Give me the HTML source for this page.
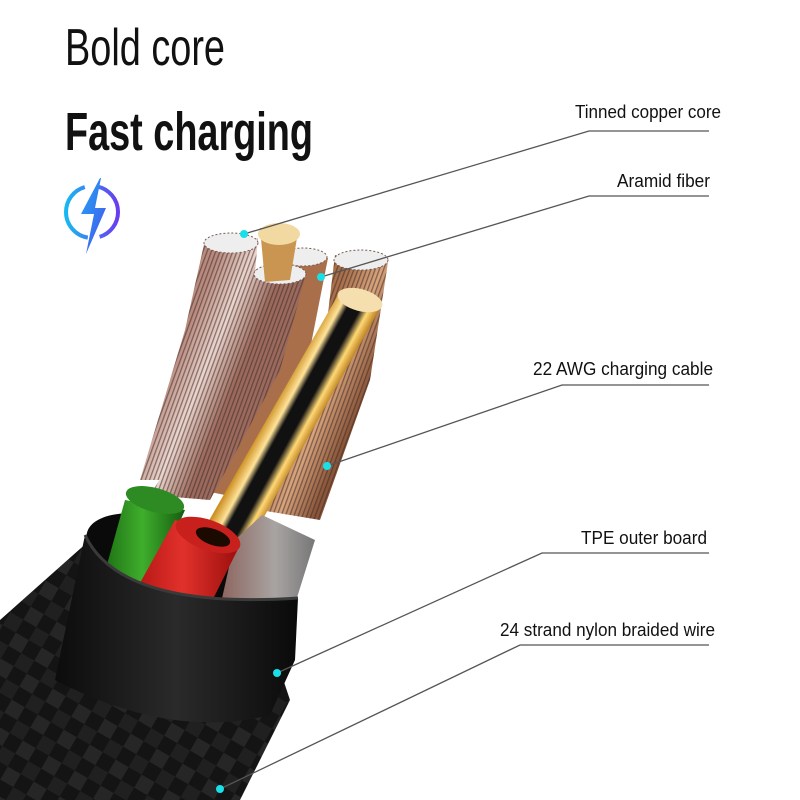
<!DOCTYPE html>
<html><head><meta charset="utf-8"><style>
html,body{margin:0;padding:0;background:#fff;}
svg{display:block}
</style></head><body>
<svg width="800" height="800" viewBox="0 0 800 800" xmlns="http://www.w3.org/2000/svg">
<defs>
<linearGradient id="cop" gradientUnits="userSpaceOnUse" x1="170" y1="370" x2="230" y2="395">
<stop offset="0" stop-color="#b98a7e"/><stop offset=".5" stop-color="#ecd6ce"/><stop offset="1" stop-color="#9c6a5c"/></linearGradient>
<linearGradient id="cop2" gradientUnits="userSpaceOnUse" x1="300" y1="380" x2="360" y2="405">
<stop offset="0" stop-color="#a86f4a"/><stop offset=".5" stop-color="#d9a57d"/><stop offset="1" stop-color="#8a5538"/></linearGradient>
<linearGradient id="gold" gradientUnits="userSpaceOnUse" x1="268" y1="413" x2="312" y2="437">
<stop offset="0" stop-color="#c98a1a"/><stop offset=".25" stop-color="#ffe39a"/><stop offset=".38" stop-color="#111"/><stop offset=".62" stop-color="#111"/><stop offset=".78" stop-color="#ffd874"/><stop offset="1" stop-color="#b07010"/></linearGradient>
<linearGradient id="grn" x1="0" y1="0" x2="1" y2="0"><stop offset="0" stop-color="#1a6a12"/><stop offset=".5" stop-color="#3fae2c"/><stop offset="1" stop-color="#155c10"/></linearGradient>
<linearGradient id="red" x1="0" y1="0" x2="1" y2="0"><stop offset="0" stop-color="#a8100e"/><stop offset=".5" stop-color="#e2312c"/><stop offset="1" stop-color="#9a0e0c"/></linearGradient>
<linearGradient id="gry" x1="0" y1="0" x2="1" y2="0"><stop offset="0" stop-color="#8a5e58"/><stop offset=".6" stop-color="#a8a4a2"/><stop offset="1" stop-color="#777"/></linearGradient>
<linearGradient id="blk" x1="0" y1="0" x2="1" y2="0"><stop offset="0" stop-color="#0c0c0c"/><stop offset=".5" stop-color="#2a2a2a"/><stop offset="1" stop-color="#0a0a0a"/></linearGradient>
<pattern id="braid" width="30" height="30" patternUnits="userSpaceOnUse" patternTransform="rotate(30)">
<rect width="30" height="30" fill="#141414"/><rect width="15" height="15" fill="#262626"/><rect x="15" y="15" width="15" height="15" fill="#202020"/></pattern>
<pattern id="str" width="4" height="10" patternUnits="userSpaceOnUse" patternTransform="rotate(20)">
<rect width="1.3" height="10" fill="#3a2a28" opacity=".55"/></pattern>
<linearGradient id="ring" x1="0" y1="0" x2="1" y2="0"><stop offset="0" stop-color="#18b8f0"/><stop offset="1" stop-color="#6a3cf0"/></linearGradient>
<linearGradient id="bolt" x1="0" y1="0" x2="1" y2="1"><stop offset="0" stop-color="#1fa8f0"/><stop offset="1" stop-color="#4a50f0"/></linearGradient>
</defs>

<text x="65" y="65" font-family="Liberation Sans, sans-serif" font-size="52" textLength="160" lengthAdjust="spacingAndGlyphs" fill="#111">Bold core</text>
<text x="65" y="150" font-family="Liberation Sans, sans-serif" font-weight="bold" font-size="54" textLength="248" lengthAdjust="spacingAndGlyphs" fill="#111">Fast charging</text>

<circle cx="92" cy="212" r="26" fill="none" stroke="url(#ring)" stroke-width="4" stroke-dasharray="70 12 70 12" stroke-dashoffset="-45"/>
<path d="M100 178 L81 214 L94 214 L86 254 L106 208 L95 208 L101 178 Z" fill="url(#bolt)"/>

<path d="M0 620 L90 540 L270 640 L290 700 L240 800 L0 800 Z" fill="url(#braid)"/>
<g>
<path d="M205 240 L258 238 L250 330 L200 480 L140 480 L185 330 Z" fill="url(#cop)"/>
<path d="M205 240 L258 238 L250 330 L200 480 L140 480 L185 330 Z" fill="url(#str)"/>
<path d="M335 255 L388 262 L370 380 L320 520 L260 510 L320 380 Z" fill="url(#cop2)"/>
<path d="M335 255 L388 262 L370 380 L320 520 L260 510 L320 380 Z" fill="url(#str)"/>
<path d="M280 255 L328 258 L300 400 L250 500 L200 490 L260 380 Z" fill="url(#cop2)"/>
<path d="M255 270 L305 278 L280 370 L210 500 L150 495 L235 360 Z" fill="url(#cop)"/>
<path d="M255 270 L305 278 L280 370 L210 500 L150 495 L235 360 Z" fill="url(#str)"/>
<ellipse cx="231" cy="243" rx="27" ry="10" fill="#eee" stroke="#7a5a55" stroke-dasharray="2 2"/>
<ellipse cx="361" cy="260" rx="27" ry="10" fill="#eee" stroke="#7a5a55" stroke-dasharray="2 2"/>
<ellipse cx="303" cy="257" rx="24" ry="9" fill="#eee" stroke="#7a5a55" stroke-dasharray="2 2"/>
<ellipse cx="280" cy="274" rx="26" ry="10" fill="#eee" stroke="#7a5a55" stroke-dasharray="2 2"/>
<path d="M260 228 L298 232 L290 280 L265 282 Z" fill="#c99550"/>
<ellipse cx="279" cy="234" rx="21" ry="11" fill="#f2d9a2"/>
<path d="M338 295 L382 305 L240 560 L195 545 Z" fill="url(#gold)"/>
<ellipse cx="360" cy="300" rx="23" ry="11" transform="rotate(15 360 300)" fill="#f5dfae"/>
</g>
<ellipse cx="190" cy="565" rx="108" ry="42" transform="rotate(18 190 565)" fill="#0a0a0a"/>
<path d="M125 500 L185 510 L150 590 L100 590 Z" fill="url(#grn)"/>
<ellipse cx="155" cy="500" rx="30" ry="12" transform="rotate(15 155 500)" fill="#2e8a22"/>
<path d="M262 515 L315 540 L290 620 L215 630 L235 540 Z" fill="url(#gry)"/>
<path d="M175 520 L240 545 L195 635 L125 610 Z" fill="url(#red)"/>
<ellipse cx="208" cy="535" rx="34" ry="15" transform="rotate(20 208 535)" fill="#c8201c"/>
<ellipse cx="213" cy="537" rx="18" ry="8" transform="rotate(20 213 537)" fill="#1a0a00"/>
<path d="M85 535 Q120 610 298 598 L295 660 L270 715 Q170 740 55 680 Z" fill="url(#blk)"/>
<path d="M85 535 Q120 610 298 598" stroke="#3a3a3a" stroke-width="3" fill="none"/>

<g stroke="#555" stroke-width="1.3" fill="none">
<polyline points="244,234 589,131 709,131"/>
<polyline points="321,277 589,196 709,196"/>
<polyline points="327,466 562,385 709,385"/>
<polyline points="277,673 542,553 709,553"/>
<polyline points="220,789 520,645 709,645"/>
</g>
<g fill="#19e0e8">
<circle cx="244" cy="234" r="4"/><circle cx="321" cy="277" r="4"/><circle cx="327" cy="466" r="4"/><circle cx="277" cy="673" r="4"/><circle cx="220" cy="789" r="4"/>
</g>
<g font-family="Liberation Sans, sans-serif" font-size="18" fill="#111" text-anchor="end">
<text x="721" y="118" textLength="146" lengthAdjust="spacingAndGlyphs">Tinned copper core</text>
<text x="710" y="187" textLength="93" lengthAdjust="spacingAndGlyphs">Aramid fiber</text>
<text x="713" y="375" textLength="180" lengthAdjust="spacingAndGlyphs">22 AWG charging cable</text>
<text x="707" y="544" textLength="126" lengthAdjust="spacingAndGlyphs">TPE outer board</text>
<text x="715" y="636" textLength="215" lengthAdjust="spacingAndGlyphs">24 strand nylon braided wire</text>
</g>
</svg>
</body></html>
